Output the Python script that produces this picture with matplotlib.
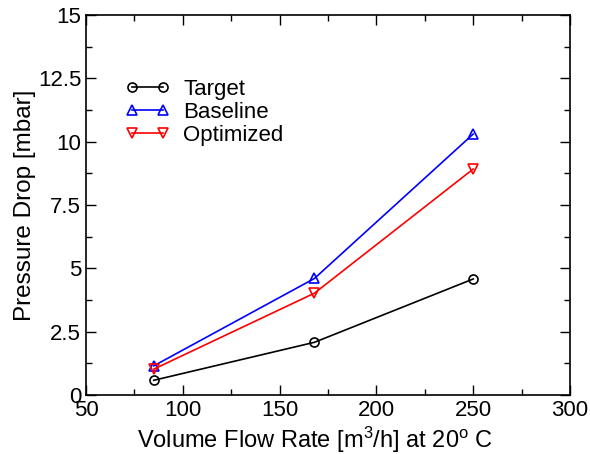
import matplotlib
matplotlib.use("Agg")
import matplotlib.pyplot as plt
from matplotlib.ticker import MultipleLocator

plt.rcParams['font.family'] = ['Liberation Sans', 'DejaVu Sans']
plt.rcParams['mathtext.fontset'] = 'custom'
plt.rcParams['mathtext.rm'] = 'Liberation Sans'
plt.rcParams['mathtext.it'] = 'Liberation Sans'

flow = [85, 168, 250]
target = [0.58, 2.08, 4.58]
baseline = [1.15, 4.6, 10.3]
optimized = [1.02, 4.02, 8.92]

fig = plt.figure(figsize=(5.9, 4.54), dpi=100)
ax = fig.add_axes([86/590, 59/454, 484/590, 380/454])

ax.plot(flow, target, color='black', marker='o', mfc='none', ms=6.5, mew=1.2, lw=1.2, label='Target')
ax.plot(flow, baseline, color='blue', marker='^', mfc='none', ms=6.5, mew=1.2, lw=1.2, label='Baseline')
ax.plot(flow, optimized, color='red', marker='v', mfc='none', ms=6.5, mew=1.2, lw=1.2, label='Optimized')

ax.set_xlim(50, 300)
ax.set_ylim(0, 15)
ax.xaxis.set_major_locator(MultipleLocator(50))
ax.xaxis.set_minor_locator(MultipleLocator(25))
ax.yaxis.set_minor_locator(MultipleLocator(1.25))
ax.set_yticks([0, 2.5, 5, 7.5, 10, 12.5, 15])
ax.set_yticklabels(['0', '2.5', '5', '7.5', '10', '12.5', '15'])
ax.tick_params(which='both', direction='in', top=True, right=True, labelsize=16)
ax.tick_params(which='major', length=7, width=1)
ax.tick_params(which='minor', length=4, width=1)
for s in ax.spines.values():
    s.set_linewidth(1.2)

ax.set_xlabel('Volume Flow Rate [m$^3$/h] at 20$^o$ C', fontsize=17, labelpad=3)
ax.xaxis.label.set_x(0.473)
ax.set_ylabel('Pressure Drop [mbar]', fontsize=17.5, labelpad=1)

ax.legend(loc='upper left', bbox_to_anchor=(0.04, 0.885), frameon=False, fontsize=16,
          numpoints=2, handlelength=2.0, labelspacing=0.1, handletextpad=0.6)

fig.savefig('out.png', dpi=100)
